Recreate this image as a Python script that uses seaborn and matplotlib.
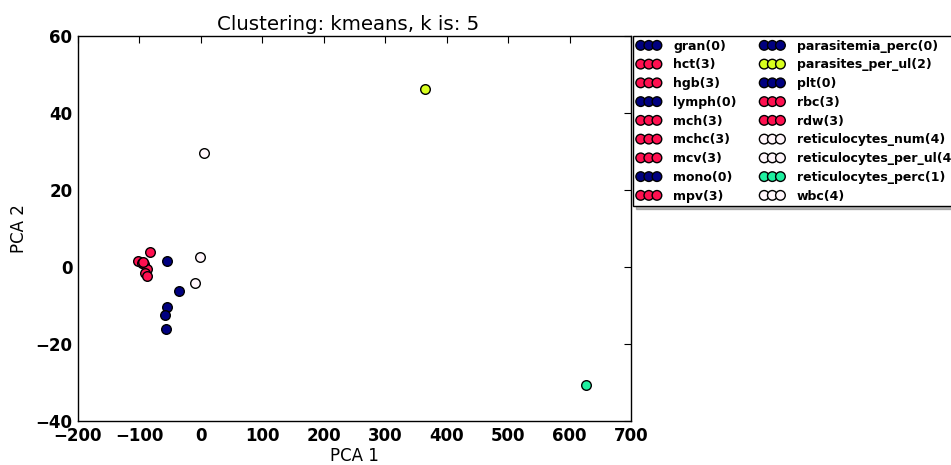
import matplotlib
matplotlib.use("Agg")
import matplotlib.pyplot as plt
import seaborn as sns
import pandas as pd

# Blood-panel variables projected onto the first two principal components
variables = [
    "gran", "hct", "hgb", "lymph", "mch", "mchc", "mcv", "mono", "mpv",
    "parasitemia_perc", "parasites_per_ul", "plt", "rbc", "rdw",
    "reticulocytes_num", "reticulocytes_per_ul", "reticulocytes_perc", "wbc",
]
pca1 = [-55.1, -102.3, -95.8, -35.1, -92.6, -88.2, -90.4, -55.1, -83.3,
        -58.4, 364.8, -56.8, -87.2, -93.7,
        -1.4, -9.6, 626.8, 5.1]
pca2 = [1.6, 1.6, 1.0, -6.2, 0.7, -0.6, -1.6, -10.3, 3.9,
        -12.4, 46.2, -16.1, -2.3, 1.4,
        2.6, -4.2, -30.6, 29.6]
clusters = [0, 3, 3, 0, 3, 3, 3, 0, 3,
            0, 2, 0, 3, 3,
            4, 4, 1, 4]

cluster_colors = ["#000080", "#1ef0a0", "#d8ff1e", "#ff1050", "#fff6fb"]

df = pd.DataFrame({"var": variables, "PCA 1": pca1, "PCA 2": pca2, "cluster": clusters})
df["label"] = [f"{v}({c})" for v, c in zip(df["var"], df["cluster"])]

sns.set_style("white")
plt.rcParams["font.family"] = ["DejaVu Sans"]
plt.rcParams["text.color"] = "black"
plt.rcParams["axes.labelcolor"] = "black"

fig = plt.figure(figsize=(9.51, 4.65), dpi=100)
ax = fig.add_axes([0.082, 0.0946, 0.5815, 0.828])

for _, row in df.iterrows():
    sns.scatterplot(
        x=[row["PCA 1"]], y=[row["PCA 2"]], ax=ax,
        color=cluster_colors[row["cluster"]], edgecolor="black",
        linewidth=1.0, s=48, label=row["label"], zorder=3,
    )

ax.set_xlim(-200, 700)
ax.set_ylim(-40, 60)
ax.set_xticks(range(-200, 701, 100))
ax.set_yticks(range(-40, 61, 20))
ax.tick_params(direction="in", length=5, width=0.8, top=True, right=True,
               labelsize=12, colors="black")
ax.tick_params(axis="x", pad=4)
ax.tick_params(axis="y", pad=4)
for lab in ax.get_xticklabels() + ax.get_yticklabels():
    lab.set_fontweight("bold")
for sp in ax.spines.values():
    sp.set_color("black")
    sp.set_linewidth(1.0)

ax.set_xlabel("PCA 1", fontsize=12, labelpad=2, color="black")
ax.set_ylabel("PCA 2", fontsize=12, labelpad=5, color="black")
ax.set_title("Clustering: kmeans, k is: 5", fontsize=14.2, pad=4, color="black")
ax.title.set_x(0.488)

leg = ax.legend(
    loc="upper left", bbox_to_anchor=(1.004, 1.0), ncol=2,
    scatterpoints=3, scatteryoffsets=[0.5], handlelength=1.9,
    handletextpad=1.0, columnspacing=1.9, labelspacing=0.46,
    borderaxespad=0.0, borderpad=0.3, fancybox=False,
    shadow={"ox": 2, "oy": -2, "color": "0.45"},
    frameon=True, prop={"weight": "bold", "size": 9},
)
leg.get_frame().set_edgecolor("black")
leg.get_frame().set_linewidth(1.0)
for t in leg.get_texts():
    t.set_color("black")

fig.savefig("out.png", dpi=100)
